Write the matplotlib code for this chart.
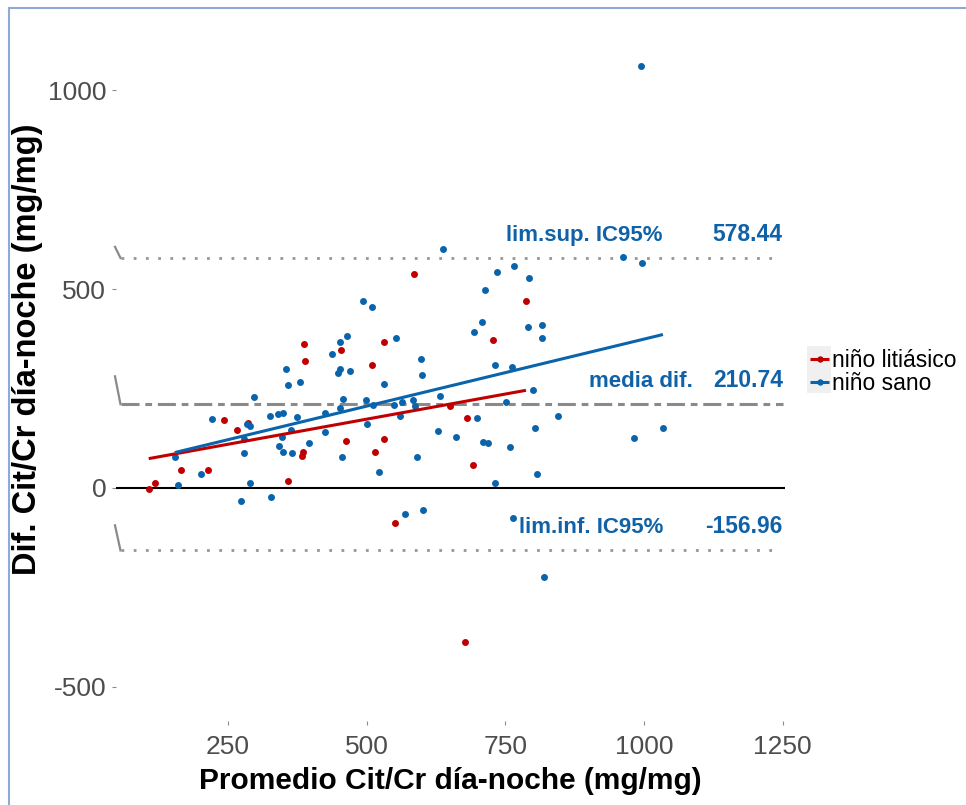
import numpy as np
import matplotlib.pyplot as plt
import matplotlib.transforms as mtransforms
from matplotlib.lines import Line2D
from matplotlib.patches import Rectangle

plt.rcParams['font.family'] = ['Liberation Sans', 'DejaVu Sans']
plt.rcParams['axes.unicode_minus'] = False

# Bland-Altman: promedio vs diferencia del cociente Cit/Cr (dia - noche)
sano_prom = [637, 493, 509, 464, 552, 451, 437, 598, 451, 355, 448, 469, 599, 358, 380,
             531, 297, 457, 498, 632, 564, 583, 511, 549, 587, 451, 424, 325, 340, 349,
             374, 221, 560, 284, 290, 500, 363, 628, 347, 424, 279, 661, 396, 341, 349,
             365, 278, 154, 456, 590, 201, 522, 290, 159, 273, 327, 569, 601, 962, 996,
             735, 766, 792, 713, 708, 693, 791, 816, 816, 732, 762, 800, 751, 699, 845,
             803, 709, 719, 758, 982, 1034, 807, 732, 763, 820, 994]
sano_dif = [602, 469, 454, 383, 376, 368, 338, 325, 300, 300, 288, 293, 285, 260, 267,
            262, 230, 225, 220, 232, 215, 220, 209, 209, 207, 200, 189, 182, 187, 189,
            179, 174, 182, 162, 157, 162, 147, 144, 129, 142, 124, 128, 114, 106, 91,
            89, 89, 79, 79, 79, 34, 39, 13, 8, -32, -22, -65, -55, 582, 567,
            542, 557, 527, 499, 418, 391, 406, 411, 378, 310, 305, 247, 217, 177, 182,
            152, 115, 113, 104, 125, 152, 36, 13, -75, -223, 1062]

lit_prom = [585, 387, 454, 531, 389, 509, 650, 242, 286, 266, 463, 531, 385, 383, 515,
            165, 214, 358, 118, 107, 551, 787, 727, 681, 691, 677]
lit_dif = [539, 363, 346, 368, 320, 308, 205, 172, 164, 147, 117, 123, 91, 81, 91,
           46, 44, 18, 13, -2, -87, 471, 373, 177, 59, -387]

media_dif = 210.74
lim_sup = 578.44
lim_inf = -156.96

grupos = ['niño litiásico', 'niño sano']
colores = ['#C00000', '#0A64AC']
color_txt = '#0F62A8'

x_ticks = [250, 500, 750, 1000, 1250]
y_ticks = [-500, 0, 500, 1000]

W, H = 966, 805
fig = plt.figure(figsize=(W / 100, H / 100), dpi=100)
ax = fig.add_axes([116 / W, 1 - 721 / H, 669 / W, 711 / H])
ax.set_xlim(48, 1254)
ax.set_ylim(-586, 1202)

datos = [(lit_prom, lit_dif), (sano_prom, sano_dif)]
for (px, py), col in zip(datos, colores):
    ax.scatter(px, py, s=25, color=col, linewidths=0, zorder=3)
    coef = np.polyfit(px, py, 1)
    xs = np.array([min(px), max(px)])
    ax.plot(xs, np.polyval(coef, xs), color=col, lw=2.2, zorder=4, solid_capstyle='butt')

# lineas de referencia
ax.axhline(0, color='black', lw=1.5, zorder=2)
ax.axhline(media_dif, xmin=0.007, xmax=0.997, color='#8a8a8a', lw=2.2,
           linestyle=(0, (5.9, 1.9, 2.2, 1.9)), zorder=2)
for v in [lim_sup, lim_inf]:
    ax.axhline(v, xmin=0.007, xmax=0.99, color='#969696', lw=2.0,
               linestyle=(0, (1, 3.4)), zorder=2)

# pequeños trazos inclinados al inicio de cada linea
trans = mtransforms.blended_transform_factory(ax.transAxes, ax.transData)
for v, cola in zip([lim_sup, media_dif, lim_inf], [28, 70, 63]):
    ax.plot([-0.0015, 0.0067], [v + cola, v], color='#8a8a8a', lw=1.6,
            transform=trans, clip_on=False, zorder=2)

# etiquetas de las lineas
etiquetas = ['lim.sup. IC95%', 'media dif.', 'lim.inf. IC95%']
valores = [lim_sup, media_dif, lim_inf]
etiqueta_x = [1034, 1088, 1034]
for lab, v, lx in zip(etiquetas, valores, etiqueta_x):
    ax.text(lx, v + 43, lab, ha='right', va='baseline', fontsize=16,
            fontweight='bold', color=color_txt)
    ax.text(1250, v + 43, f'{v:.2f}', ha='right', va='baseline', fontsize=16.5,
            fontweight='bold', color=color_txt)

ax.set_xticks(x_ticks)
ax.set_yticks(y_ticks)
ax.tick_params(axis='both', length=3, width=0.8, color='#8c8c8c',
               labelsize=19, labelcolor='#4d4d4d')
ax.tick_params(axis='x', pad=7)
ax.tick_params(axis='y', pad=4)
for sp in ax.spines.values():
    sp.set_visible(False)

fig.text(450 / W, 1 - 781 / H, 'Promedio Cit/Cr día-noche (mg/mg)', ha='center',
         va='center', fontsize=21.5, fontweight='bold')
fig.text(28 / W, 1 - 349 / H, 'Dif. Cit/Cr día-noche (mg/mg)', ha='center',
         va='center', rotation=90, fontsize=23.5, fontweight='bold')

# leyenda
fig.add_artist(Rectangle((807 / W, 1 - 393 / H), 24 / W, 47 / H,
                         transform=fig.transFigure, facecolor='#f0f0f0', edgecolor='none'))
for i, (g, col) in enumerate(zip(grupos, colores)):
    yk = 1 - (359 + 23 * i) / H
    fig.add_artist(Line2D([810 / W, 829 / W], [yk, yk], transform=fig.transFigure,
                          color=col, lw=2.2, solid_capstyle='butt'))
    fig.add_artist(Line2D([819.5 / W], [yk], transform=fig.transFigure,
                          color=col, marker='o', markersize=4.6, markeredgewidth=0))
    fig.text(831.5 / W, 1 - (360.5 + 23 * i) / H, g, ha='left', va='center', fontsize=16.5)

# marco
fig.add_artist(Line2D([9 / W, 1], [1 - 8.5 / H, 1 - 8.5 / H], transform=fig.transFigure,
                      color='#8eaadb', lw=1.5))
fig.add_artist(Line2D([8.5 / W, 8.5 / W], [0, 1 - 8.5 / H], transform=fig.transFigure,
                      color='#8eaadb', lw=1.5))

fig.savefig('out.png', dpi=100)
